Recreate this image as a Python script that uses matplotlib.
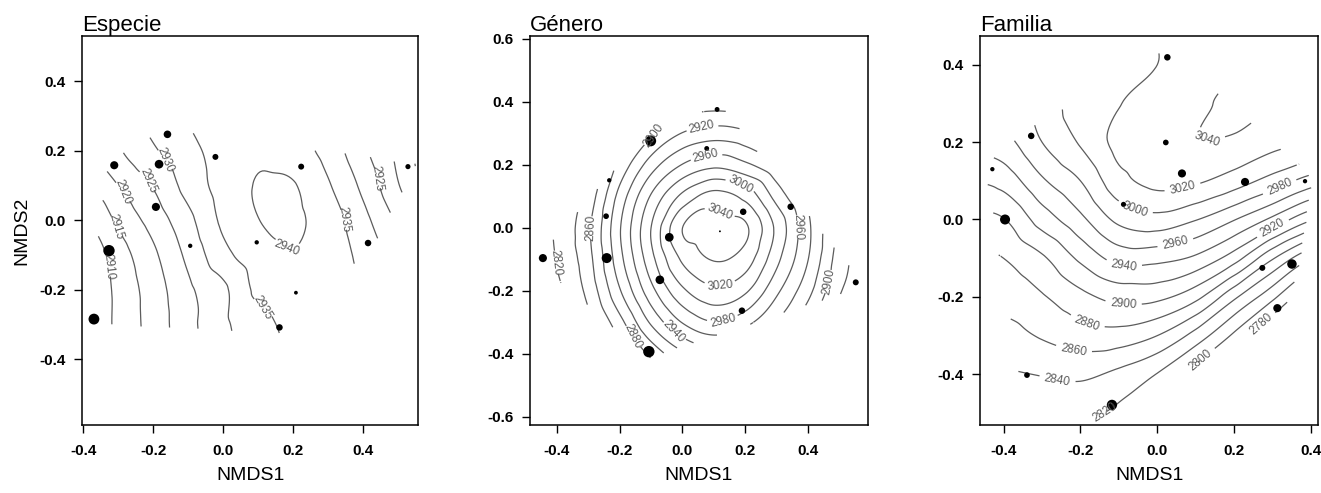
import numpy as np
import matplotlib
matplotlib.use("Agg")
import matplotlib.pyplot as plt
import matplotlib.tri as mtri
from matplotlib.path import Path
from matplotlib.ticker import FormatStrFormatter

plt.rcParams['font.family'] = ['Liberation Sans', 'DejaVu Sans']
plt.rcParams['axes.unicode_minus'] = False

# ---- Especie: sitios (NMDS1, NMDS2) y tamaño de punto
esp_x = [-0.369, -0.326, -0.311, -0.183, -0.159, -0.192, -0.094, -0.022, 0.096, 0.223, 0.208, 0.161, 0.414, 0.528]
esp_y = [-0.285, -0.088, 0.158, 0.161, 0.247, 0.038, -0.074, 0.182, -0.064, 0.154, -0.209, -0.309, -0.066, 0.154]
esp_cex = [2.0, 2.1, 1.5, 1.6, 1.4, 1.5, 0.8, 1.1, 0.8, 1.1, 0.7, 1.2, 1.2, 0.95]
# superficie (altitud), filas de y=-0.4 a 0.3
esp_gx = [-0.5, -0.4, -0.3, -0.2, -0.1, 0.0, 0.1, 0.2, 0.3, 0.4, 0.5, 0.6]
esp_gy = [-0.4, -0.3, -0.2, -0.1, 0.0, 0.1, 0.2, 0.3]
esp_z = [
    [2897, 2904, 2911, 2916.8, 2923, 2928.5, 2931.5, 2934.5, 2936, 2935, 2932, 2928],
    [2897, 2904, 2911.2, 2917, 2923.4, 2929, 2933, 2936.5, 2937, 2935, 2931, 2926],
    [2897, 2904, 2911.3, 2917.4, 2924, 2929, 2936.2, 2938.5, 2937.5, 2934.5, 2930, 2924],
    [2898, 2905, 2912.5, 2919, 2926.2, 2933.5, 2937.8, 2939.8, 2937.8, 2933.5, 2928, 2920],
    [2900, 2908, 2916, 2922, 2928.6, 2936, 2939.9, 2940.8, 2937.5, 2931.5, 2924, 2915],
    [2907, 2913.8, 2920, 2925.3, 2931.8, 2937, 2940.3, 2940.3, 2935.5, 2928.8, 2920.3, 2912],
    [2910, 2916.5, 2924.3, 2929.3, 2933.6, 2936.8, 2939.2, 2937.5, 2933, 2926, 2918.5, 2910],
    [2913, 2920, 2927, 2932, 2935.5, 2937.5, 2938, 2936, 2931, 2923.5, 2916, 2909],
]
esp_niveles = [2910, 2915, 2920, 2925, 2930, 2935, 2940]
esp_etiquetas = [(-0.356, -0.135), (-0.313, -0.019), (-0.304, 0.077), (-0.228, 0.11),
                 (-0.17, 0.173), (0.096, -0.259), (0.177, -0.081), (0.334, 0.0), (0.425, 0.12)]

# ---- Género
gen_x = [-0.444, -0.241, -0.243, -0.233, -0.101, 0.11, 0.077, 0.193, 0.344, 0.551, 0.189, -0.107, -0.072, -0.042, 0.119]
gen_y = [-0.096, -0.096, 0.037, 0.151, 0.276, 0.376, 0.252, 0.051, 0.067, -0.173, -0.263, -0.393, -0.165, -0.03, -0.011]
gen_cex = [1.5, 1.85, 1.05, 0.8, 2.0, 0.9, 0.9, 1.2, 1.2, 1.1, 1.2, 2.1, 1.6, 1.6, 0.35]
gen_gx = [-0.5, -0.4, -0.3, -0.2, -0.1, 0.0, 0.1, 0.2, 0.3, 0.4, 0.5, 0.6]
gen_gy = [-0.5, -0.4, -0.3, -0.2, -0.1, 0.0, 0.1, 0.2, 0.3, 0.4]
gen_z = [
    [2770, 2780, 2800, 2822, 2850, 2872, 2882, 2878, 2862, 2840, 2815, 2800],
    [2780, 2793, 2817, 2846, 2885, 2916, 2930, 2922, 2900, 2868, 2845, 2825],
    [2790, 2806, 2833, 2873, 2923, 2961, 2979, 2966, 2938, 2903, 2866, 2842],
    [2795, 2815, 2846, 2898, 2953, 2996, 3015, 3003, 2964, 2926, 2882, 2862],
    [2797, 2821, 2853, 2913, 2973, 3023, 3041, 3030, 2985, 2940, 2890, 2864],
    [2797, 2823, 2856, 2918, 2980, 3040, 3046, 3043, 2995, 2944, 2893, 2856],
    [2795, 2820, 2848, 2907, 2962, 3005, 3028, 3014, 2972, 2933, 2884, 2848],
    [2790, 2813, 2842, 2885, 2930, 2961, 2975, 2964, 2942, 2910, 2866, 2830],
    [2780, 2803, 2827, 2858, 2895, 2921, 2930, 2924, 2906, 2878, 2842, 2805],
    [2770, 2785, 2805, 2834, 2860, 2882, 2888, 2883, 2868, 2845, 2815, 2785],
]
gen_niveles = list(range(2820, 3041, 20))
gen_etiquetas = [(0.061, 0.324), (-0.08, 0.29), (0.071, 0.239), (0.193, 0.148), (0.146, 0.074),
                 (0.12, -0.186), (0.13, -0.297), (-0.029, -0.33), (-0.157, -0.345), (-0.31, 0.0),
                 (-0.41, -0.11), (0.368, 0.004), (0.447, -0.168)]

# ---- Familia
fam_x = [0.026, -0.328, -0.429, 0.022, 0.064, 0.228, 0.384, -0.088, -0.396, 0.273, 0.35, 0.312, -0.339, -0.118]
fam_y = [0.419, 0.216, 0.13, 0.199, 0.119, 0.097, 0.099, 0.039, 0.0, -0.125, -0.115, -0.229, -0.402, -0.479]
fam_cex = [1.2, 1.2, 0.8, 1.05, 1.5, 1.5, 0.8, 0.95, 1.85, 1.1, 1.75, 1.5, 1.05, 1.9]
fam_gx = [-0.5, -0.4, -0.3, -0.2, -0.1, 0.0, 0.1, 0.2, 0.3, 0.4, 0.5]
fam_gy = [-0.6, -0.5, -0.4, -0.3, -0.2, -0.1, 0.0, 0.1, 0.2, 0.3, 0.4, 0.5]
fam_z = [
    [2804, 2808, 2810, 2808, 2795, 2770, 2735, 2710, 2680, 2640, 2620],
    [2818, 2822, 2825, 2825, 2815, 2795, 2760, 2735, 2705, 2665, 2645],
    [2832, 2837, 2841, 2844, 2835, 2819, 2790, 2760, 2730, 2690, 2670],
    [2846, 2852, 2862, 2871, 2872, 2860, 2832, 2796, 2755, 2720, 2700],
    [2860, 2867, 2878, 2894, 2906, 2905, 2886, 2844, 2805, 2760, 2740],
    [2874, 2880, 2897, 2924, 2947, 2946, 2936, 2909, 2862, 2821, 2800],
    [2892, 2899, 2929, 2955, 2985, 2993, 2981, 2961, 2935, 2902, 2880],
    [2918, 2928, 2957, 2980, 3013, 3026, 3023, 3010, 2992, 2971, 2960],
    [2943, 2953, 2980, 3002, 3026, 3030, 3039, 3037, 3027, 3020, 3015],
    [2965, 2976, 2989, 3010, 3019, 3032, 3036, 3044, 3042, 3042, 3040],
    [2985, 2996, 2998, 3015, 3012, 3020, 3030, 3040, 3048, 3055, 3055],
    [3000, 3010, 3008, 3018, 3016, 3022, 3032, 3045, 3052, 3058, 3060],
]
fam_niveles = list(range(2780, 3041, 20))
fam_etiquetas = [(0.129, 0.207), (0.068, 0.073), (-0.062, 0.017), (0.319, 0.082), (0.046, -0.056),
                 (-0.088, -0.125), (0.302, -0.026), (-0.088, -0.216), (-0.187, -0.276),
                 (-0.218, -0.341), (-0.261, -0.419), (-0.157, -0.471), (0.112, -0.363), (0.268, -0.268)]


def casco(xs, ys):
    # envolvente convexa (monotone chain), algo ampliada como la malla de ordisurf
    pts = sorted(zip(xs, ys))
    def cruz(o, a, b):
        return (a[0] - o[0]) * (b[1] - o[1]) - (a[1] - o[1]) * (b[0] - o[0])
    abajo = []
    for p in pts:
        while len(abajo) >= 2 and cruz(abajo[-2], abajo[-1], p) <= 0:
            abajo.pop()
        abajo.append(p)
    arriba = []
    for p in reversed(pts):
        while len(arriba) >= 2 and cruz(arriba[-2], arriba[-1], p) <= 0:
            arriba.pop()
        arriba.append(p)
    h = np.array(abajo[:-1] + arriba[:-1])
    c = h.mean(axis=0)
    return c + (h - c) * 1.05


def superficie(ax, gx, gy, z, px, py, niveles, etiquetas):
    X, Y = np.meshgrid(gx, gy)
    nx = len(gx)
    tris = []
    for j in range(len(gy) - 1):
        for i in range(nx - 1):
            a = j * nx + i
            tris.append([a, a + 1, a + nx + 1])
            tris.append([a, a + nx + 1, a + nx])
    tri = mtri.Triangulation(X.ravel(), Y.ravel(), np.array(tris))
    zz = np.array(z, dtype=float).ravel()
    interp = mtri.CubicTriInterpolator(tri, zz, kind='geom')
    tri_r, z_r = mtri.UniformTriRefiner(tri).refine_field(zz, triinterpolator=interp, subdiv=4)
    hull = Path(casco(px, py))
    cx = tri_r.x[tri_r.triangles].mean(axis=1)
    cy = tri_r.y[tri_r.triangles].mean(axis=1)
    tri_r.set_mask(~hull.contains_points(np.column_stack([cx, cy])))
    cs = ax.tricontour(tri_r, z_r, levels=niveles, colors='#5c5c5c', linewidths=0.9)
    ax.clabel(cs, manual=etiquetas, inline=True, inline_spacing=3, fontsize=8.5,
              fmt='%d', colors='#5a5a5a')


fig = plt.figure(figsize=(13.21, 4.93), dpi=100)

paneles = [
    ("Especie", [0.0621, 0.1379, 0.2544, 0.789], (-0.403, 0.557), (-0.59, 0.53),
     [-0.4, -0.2, 0.0, 0.2, 0.4], esp_x, esp_y, esp_cex, esp_gx, esp_gy, esp_z, esp_niveles, esp_etiquetas),
    ("Género", [0.4012, 0.1379, 0.2559, 0.789], (-0.485, 0.59), (-0.626, 0.609),
     [-0.6, -0.4, -0.2, 0.0, 0.2, 0.4, 0.6], gen_x, gen_y, gen_cex, gen_gx, gen_gy, gen_z, gen_niveles, gen_etiquetas),
    ("Familia", [0.7419, 0.1379, 0.2559, 0.789], (-0.461, 0.418), (-0.531, 0.474),
     [-0.4, -0.2, 0.0, 0.2, 0.4], fam_x, fam_y, fam_cex, fam_gx, fam_gy, fam_z, fam_niveles, fam_etiquetas),
]

for k, (nombre, pos, xl, yl, yt, px, py, cex, gx, gy, z, niv, etq) in enumerate(paneles):
    ax = fig.add_axes(pos)
    superficie(ax, gx, gy, z, px, py, niv, etq)
    ax.scatter(px, py, s=(np.array(cex) * 3.9) ** 2, c='black', edgecolors='none', zorder=3)
    ax.set_xlim(*xl)
    ax.set_ylim(*yl)
    ax.set_xticks([-0.4, -0.2, 0.0, 0.2, 0.4])
    ax.set_yticks(yt)
    ax.xaxis.set_major_formatter(FormatStrFormatter('%.1f'))
    ax.yaxis.set_major_formatter(FormatStrFormatter('%.1f'))
    ax.tick_params(direction='out', length=6, width=1, labelsize=11)
    ax.tick_params(axis='x', pad=8)
    ax.tick_params(axis='y', pad=6)
    for lab in ax.get_xticklabels() + ax.get_yticklabels():
        lab.set_fontweight('bold')
    for sp in ax.spines.values():
        sp.set_linewidth(1.1)
    ax.set_xlabel("NMDS1", fontsize=14, labelpad=6)
    if k == 0:
        ax.set_ylabel("NMDS2", fontsize=14, labelpad=6)
    ax.set_title(nombre, loc='left', fontsize=16, pad=0)

fig.savefig("out.png", dpi=100)
